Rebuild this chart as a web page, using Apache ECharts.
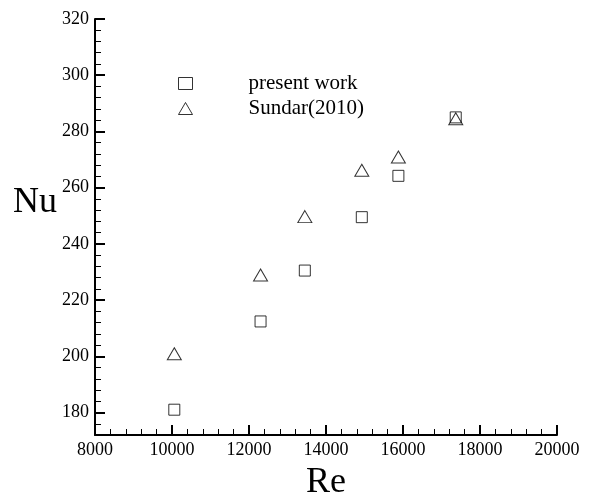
<!DOCTYPE html>
<html>
<head>
<meta charset="utf-8">
<script src="https://cdn.jsdelivr.net/npm/echarts@6/dist/echarts.min.js"></script>
<style>
  html, body { margin: 0; padding: 0; background: #fff; }
  #chart { width: 590px; height: 496px; }
</style>
</head>
<body>
<div id="chart"></div>
<script>
// Re values shared by both data sets
const reValues = [10060, 12300, 13450, 14930, 15880, 17370]
const presentWork = [181, 212.4, 230.5, 249.5, 264.2, 285]
const sundar2010 = [200.9, 228.9, 249.7, 266.2, 270.9, 284.5]
const nuTicks = [180, 200, 220, 240, 260, 280, 300, 320]

const serif = 'Liberation Serif'

const myChart = echarts.init(document.getElementById('chart'))

myChart.setOption({
  backgroundColor: '#fff',
  animation: false,
  grid: {
    left: 95,
    right: 33,
    top: 19,
    bottom: 61,
    outerBoundsMode: 'none'
  },
  legend: {
    orient: 'vertical',
    left: 178,
    top: 73,
    padding: 0,
    itemWidth: 14,
    itemHeight: 12,
    itemGap: 4,
    itemStyle: {borderWidth: 1},
    textStyle: {
      fontFamily: serif,
      fontSize: 21,
      color: '#000',
      padding: [0, 0, 0, 51]
    },
    data: ['present work', 'Sundar(2010)']
  },
  xAxis: {
    type: 'value',
    min: 8000,
    max: 20000,
    interval: 2000,
    name: 'Re',
    nameLocation: 'middle',
    nameGap: 30,
    nameTextStyle: {fontFamily: serif, fontSize: 36, color: '#000'},
    axisLine: {show: true, lineStyle: {color: '#000', width: 2}},
    axisTick: {show: true, inside: true, length: 10, lineStyle: {color: '#000', width: 2}},
    minorTick: {show: true, splitNumber: 5, length: 6, lineStyle: {color: '#000', width: 1}},
    axisLabel: {fontFamily: serif, fontSize: 18, color: '#000', margin: 6, formatter: v => String(v)},
    splitLine: {show: false}
  },
  yAxis: [
    {
      // minor ticks every 4
      type: 'value',
      min: 172,
      max: 320,
      interval: 4,
      axisLine: {show: true, lineStyle: {color: '#000', width: 2}},
      axisTick: {show: true, inside: true, length: 6, lineStyle: {color: '#000', width: 1}},
      axisLabel: {show: false},
      splitLine: {show: false}
    },
    {
      // major ticks + labels
      type: 'value',
      min: 172,
      max: 320,
      position: 'left',
      axisLine: {show: false},
      axisTick: {show: true, inside: true, length: 10, customValues: nuTicks, lineStyle: {color: '#000', width: 2}},
      axisLabel: {fontFamily: serif, fontSize: 18, color: '#000', margin: 6, customValues: nuTicks},
      splitLine: {show: false}
    }
  ],
  graphic: [
    {
      type: 'text',
      left: 13,
      top: 185,
      style: {text: 'Nu', font: '36px "Liberation Serif"', fill: '#000'}
    }
  ],
  series: [
    {
      name: 'present work',
      type: 'scatter',
      yAxisIndex: 0,
      symbol: 'rect',
      symbolSize: 11,
      itemStyle: {color: '#fff', borderColor: '#000', borderWidth: 1},
      data: reValues.map((re, i) => [re, presentWork[i]])
    },
    {
      name: 'Sundar(2010)',
      type: 'scatter',
      yAxisIndex: 0,
      symbol: 'triangle',
      symbolSize: [14, 12],
      itemStyle: {color: 'rgba(255,255,255,0)', borderColor: '#000', borderWidth: 1},
      data: reValues.map((re, i) => [re, sundar2010[i]])
    }
  ]
})
</script>
</body>
</html>
